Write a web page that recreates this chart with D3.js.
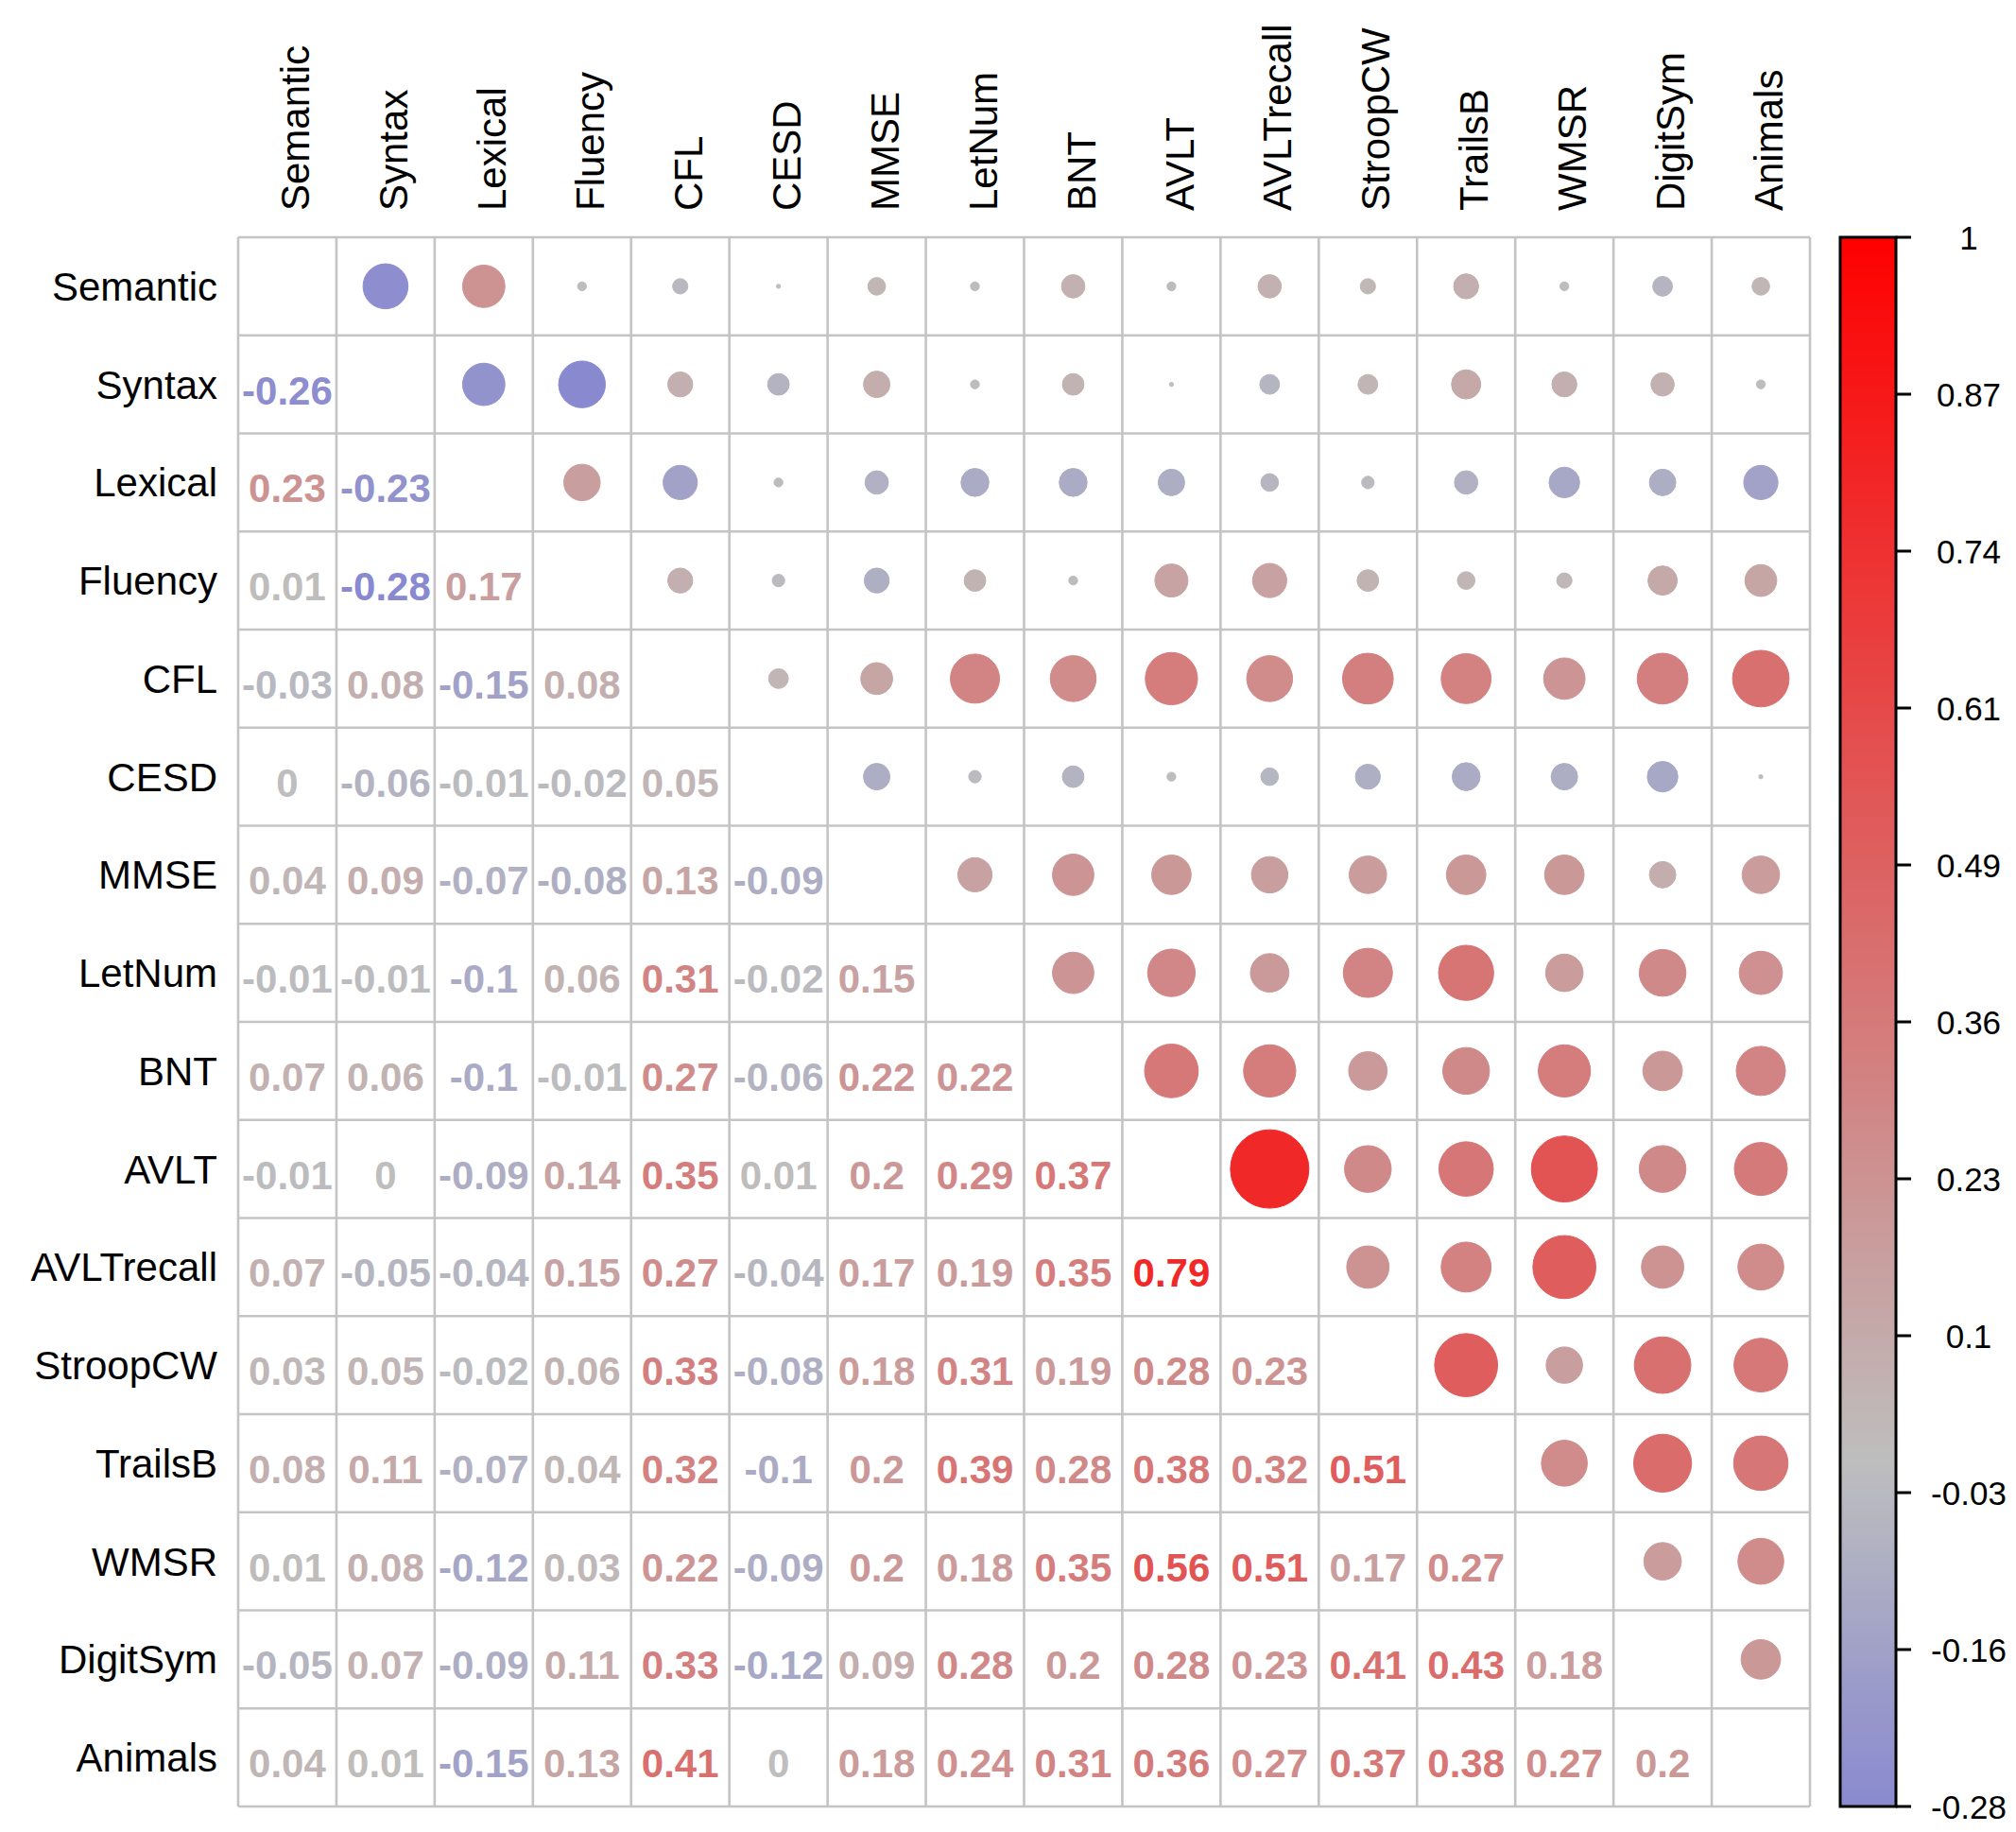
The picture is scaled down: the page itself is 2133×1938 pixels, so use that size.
<!DOCTYPE html>
<html>
<head>
<meta charset="utf-8">
<script src="https://cdn.jsdelivr.net/npm/d3@7"></script>
<style>
  html, body { margin: 0; padding: 0; background: #ffffff; }
  svg { display: block; }
</style>
</head>
<body>
<script>
// ---- Data (correlation matrix, lower triangle) ----
const variables = ["Semantic","Syntax","Lexical","Fluency","CFL","CESD","MMSE","LetNum","BNT","AVLT","AVLTrecall","StroopCW","TrailsB","WMSR","DigitSym","Animals"];

const corSyntax     = [-0.26];
const corLexical    = [0.23, -0.23];
const corFluency    = [0.01, -0.28, 0.17];
const corCFL        = [-0.03, 0.08, -0.15, 0.08];
const corCESD       = [0, -0.06, -0.01, -0.02, 0.05];
const corMMSE       = [0.04, 0.09, -0.07, -0.08, 0.13, -0.09];
const corLetNum     = [-0.01, -0.01, -0.1, 0.06, 0.31, -0.02, 0.15];
const corBNT        = [0.07, 0.06, -0.1, -0.01, 0.27, -0.06, 0.22, 0.22];
const corAVLT       = [-0.01, 0, -0.09, 0.14, 0.35, 0.01, 0.2, 0.29, 0.37];
const corAVLTrecall = [0.07, -0.05, -0.04, 0.15, 0.27, -0.04, 0.17, 0.19, 0.35, 0.79];
const corStroopCW   = [0.03, 0.05, -0.02, 0.06, 0.33, -0.08, 0.18, 0.31, 0.19, 0.28, 0.23];
const corTrailsB    = [0.08, 0.11, -0.07, 0.04, 0.32, -0.1, 0.2, 0.39, 0.28, 0.38, 0.32, 0.51];
const corWMSR       = [0.01, 0.08, -0.12, 0.03, 0.22, -0.09, 0.2, 0.18, 0.35, 0.56, 0.51, 0.17, 0.27];
const corDigitSym   = [-0.05, 0.07, -0.09, 0.11, 0.33, -0.12, 0.09, 0.28, 0.2, 0.28, 0.23, 0.41, 0.43, 0.18];
const corAnimals    = [0.04, 0.01, -0.15, 0.13, 0.41, 0, 0.18, 0.24, 0.31, 0.36, 0.27, 0.37, 0.38, 0.27, 0.2];

const colorbarTicks = ["1","0.87","0.74","0.61","0.49","0.36","0.23","0.1","-0.03","-0.16","-0.28"];
const colorbarLimits = [-0.28, 1];

// ---- Build cell list ----
const lowerRows = [[], corSyntax, corLexical, corFluency, corCFL, corCESD, corMMSE, corLetNum, corBNT,
  corAVLT, corAVLTrecall, corStroopCW, corTrailsB, corWMSR, corDigitSym, corAnimals];
const lowerCells = [];
const upperCells = [];
lowerRows.forEach((row, i) => {
  row.forEach((v, j) => {
    lowerCells.push({ row: variables[i], col: variables[j], v });
    upperCells.push({ row: variables[j], col: variables[i], v });
  });
});

// ---- Layout ----
const W = 2133, H = 1938;
const gridLeft = 252, gridRight = 1915, gridTop = 251, gridBottom = 1911;
const FONT = "'Liberation Sans', Arial, Helvetica, sans-serif";

const svg = d3.select("body").append("svg")
  .attr("width", W).attr("height", H)
  .attr("viewBox", `0 0 ${W} ${H}`);

const x = d3.scaleBand().domain(variables).range([gridLeft, gridRight]).padding(0);
const y = d3.scaleBand().domain(variables).range([gridTop, gridBottom]).padding(0);

const color = d3.scaleLinear().domain([-1, 0, 1]).range(["#0000FF", "#BEBEBE", "#FF0000"]).interpolate(d3.interpolateRgb);
const radius = d3.scaleSqrt().domain([0, 1]).range([0, 0.45 * Math.min(x.bandwidth(), y.bandwidth())]);
const minR = 2.2;

const fmt = v => String(Math.round(v * 100) / 100);

// Grid lines
const gridG = svg.append("g").attr("stroke", "#c4c4c4").attr("stroke-width", 2.6).attr("fill", "none");
d3.range(variables.length + 1).forEach(k => {
  const xx = gridLeft + k * x.step();
  const yy = gridTop + k * y.step();
  gridG.append("line").attr("x1", xx).attr("x2", xx).attr("y1", gridTop).attr("y2", gridBottom);
  gridG.append("line").attr("x1", gridLeft).attr("x2", gridRight).attr("y1", yy).attr("y2", yy);
});

// Upper triangle circles
svg.append("g").selectAll("circle").data(upperCells).join("circle")
  .attr("cx", d => x(d.col) + x.bandwidth() / 2)
  .attr("cy", d => y(d.row) + y.bandwidth() / 2)
  .attr("r", d => Math.max(minR, radius(Math.abs(d.v))))
  .attr("fill", d => color(d.v))
  .attr("stroke", d => color(d.v))
  .attr("stroke-width", 1);

// Lower triangle numbers
svg.append("g").selectAll("text").data(lowerCells).join("text")
  .attr("x", d => x(d.col) + x.bandwidth() / 2)
  .attr("y", d => y(d.row) + y.bandwidth() / 2 + 6)
  .attr("dy", "0.36em")
  .attr("text-anchor", "middle")
  .attr("font-family", FONT)
  .attr("font-weight", "bold")
  .attr("font-size", 42)
  .attr("fill", d => color(d.v))
  .text(d => fmt(d.v));

// Row labels
svg.append("g").selectAll("text").data(variables).join("text")
  .attr("x", gridLeft - 22)
  .attr("y", d => y(d) + y.bandwidth() / 2)
  .attr("dy", "0.36em")
  .attr("text-anchor", "end")
  .attr("font-family", FONT)
  .attr("font-size", 42)
  .attr("fill", "#000")
  .text(d => d);

// Column labels (rotated)
svg.append("g").selectAll("text").data(variables).join("text")
  .attr("transform", d => `translate(${x(d) + x.bandwidth() / 2},${gridTop - 28}) rotate(-90)`)
  .attr("dy", "0.55em")
  .attr("text-anchor", "start")
  .attr("font-family", FONT)
  .attr("font-size", 42)
  .attr("fill", "#000")
  .text(d => d);

// ---- Colour bar ----
const cbLeft = 1947, cbRight = 2006;
const cbY = d3.scaleLinear().domain(colorbarLimits).range([gridBottom, gridTop]);
const defs = svg.append("defs");
const grad = defs.append("linearGradient").attr("id", "cbgrad")
  .attr("x1", 0).attr("x2", 0).attr("y1", 1).attr("y2", 0);
d3.range(0, 51).forEach(k => {
  const t = k / 50;
  const v = colorbarLimits[0] + t * (colorbarLimits[1] - colorbarLimits[0]);
  grad.append("stop").attr("offset", t).attr("stop-color", color(v));
});
svg.append("rect")
  .attr("x", cbLeft).attr("y", cbY(colorbarLimits[1]))
  .attr("width", cbRight - cbLeft)
  .attr("height", cbY(colorbarLimits[0]) - cbY(colorbarLimits[1]))
  .attr("fill", "url(#cbgrad)")
  .attr("stroke", "#000").attr("stroke-width", 3);

const tickPos = d3.scaleLinear().domain([0, colorbarTicks.length - 1]).range([gridTop, gridBottom]);
const tickG = svg.append("g");
colorbarTicks.forEach((lab, i) => {
  const ty = tickPos(i);
  tickG.append("line").attr("x1", cbRight).attr("x2", 2022).attr("y1", ty).attr("y2", ty)
    .attr("stroke", "#000").attr("stroke-width", 3);
  tickG.append("text").attr("x", 2083).attr("y", ty).attr("dy", "0.36em")
    .attr("text-anchor", "middle")
    .attr("font-family", FONT).attr("font-size", 35).attr("fill", "#000")
    .text(lab);
});
</script>
</body>
</html>
